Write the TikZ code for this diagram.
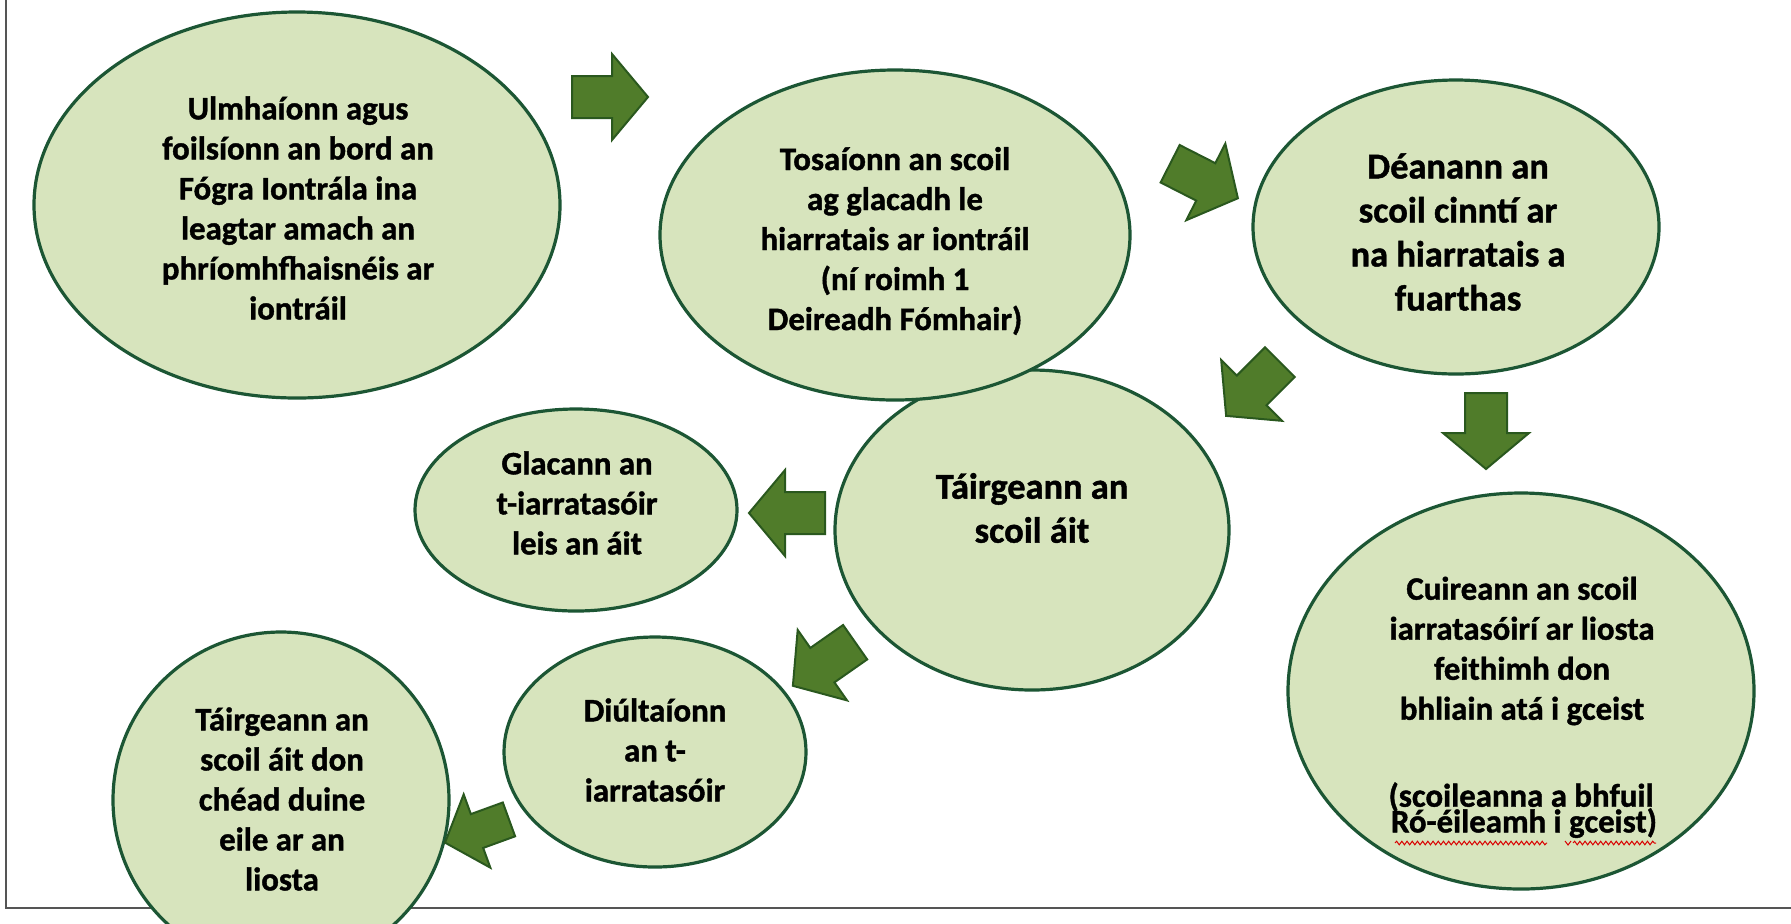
\documentclass[tikz,border=0pt]{standalone}
\usepackage{fontspec}
\setmainfont{Carlito}[BoldFeatures={FakeBold=1.2}]
\usetikzlibrary{shapes.geometric,decorations.pathmorphing}
\definecolor{ellfill}{RGB}{215,228,189}
\definecolor{elldraw}{RGB}{28,86,52}
\definecolor{arrfill}{RGB}{80,124,42}
\definecolor{arrdraw}{RGB}{42,88,30}
\definecolor{framegray}{RGB}{85,85,85}
\begin{document}
\begin{tikzpicture}[x=0.5pt,y=-0.5pt,
  stage/.style={ellipse, draw=elldraw, fill=ellfill, line width=1.6pt, inner sep=0pt},
  txt/.style={font=\bfseries\fontsize{16.4}{20}\selectfont, align=center, inner sep=0pt},
  bigtxt/.style={font=\bfseries\fontsize{18.2}{22}\selectfont, align=center, inner sep=0pt},
  arrowshape/.style={fill=arrfill, draw=arrdraw, line width=1pt, line join=miter},
  barrow/.pic={\path[arrowshape] (-38,-21) -- (2,-21) -- (2,-43) -- (38,0) -- (2,43) -- (2,21) -- (-38,21) -- cycle;},
  sarrow/.pic={\path[arrowshape] (-34,-18) -- (0,-18) -- (0,-39) -- (34,0) -- (0,39) -- (0,18) -- (-34,18) -- cycle;},
  squiggle/.style={draw=red!85!black, line width=0.5pt, decorate, decoration={snake, amplitude=0.9pt, segment length=2.6pt}}
]
\useasboundingbox (0,0) rectangle (1791,923);
\clip (0,0) rectangle (1791,923);

% frame
\coordinate (ftop) at (6,0);
\coordinate (fcorner) at (6,908);
\coordinate (fright) at (1791,908);
\draw[framegray, line width=1.2pt] (ftop) -- (fcorner) -- (fright);

% ellipses
\node[stage, minimum width=263pt, minimum height=193pt] (e1) at (297,205) {};
\node[stage, minimum width=197pt, minimum height=160pt] (e4) at (1032,530) {};
\node[stage, minimum width=235pt, minimum height=165pt] (e2) at (895,235) {};
\node[stage, minimum width=203pt, minimum height=147pt] (e3) at (1456,227) {};
\node[stage, minimum width=233pt, minimum height=198pt] (e5) at (1521,691) {};
\node[stage, minimum width=161pt, minimum height=101pt] (e6) at (576,510) {};
\node[stage, minimum width=151pt, minimum height=115pt] (e7) at (655,752) {};
\node[stage, minimum width=168pt, minimum height=168pt] (e8) at (281,800) {};

% texts
\node[txt] (t1) at (298,208) {Ulmhaíonn agus\\foilsíonn an bord an\\Fógra Iontrála ina\\leagtar amach an\\phríomhfhaisnéis ar\\iontráil};
\node[txt] (t2) at (895,241) {Tosaíonn an scoil\\ag glacadh le\\hiarratais ar iontráil\\(ní roimh 1\\Deireadh Fómhair)};
\node[bigtxt] (t3) at (1458,232) {Déanann an\\scoil cinntí ar\\na hiarratais a\\fuarthas};
\node[bigtxt] (t4) at (1032,508) {Táirgeann an\\scoil áit};
\node[txt] (t5) at (1522,651) {Cuireann an scoil\\iarratasóirí ar liosta\\feithimh don\\bhliain atá i gceist};
\node[txt] (t5b) at (1521,797) {(scoileanna a bhfuil};
\node[txt] (t5c) at (1524,823) {Ró-éileamh i gceist)};
\node[txt] (t6) at (577,503) {Glacann an\\t-iarratasóir\\leis an áit};
\node[txt] (t7) at (655,750) {Diúltaíonn\\an t-\\iarratasóir};
\node[txt] (t8) at (282,799) {Táirgeann an\\scoil áit don\\chéad duine\\eile ar an\\liosta};

% spell-check marks
\coordinate (s1a) at (1395,843);
\coordinate (s1b) at (1547,843);
\coordinate (s2a) at (1573,843);
\coordinate (s2b) at (1656,843);
\coordinate (s3a) at (1565,841);
\coordinate (s3b) at (1568,845);
\coordinate (s3c) at (1571,841);
\draw[squiggle] (s1a) -- (s1b);
\draw[squiggle] (s2a) -- (s2b);
\draw[red!85!black, line width=0.5pt] (s3a) -- (s3b) -- (s3c);

% block arrows
\path (610,97) pic {barrow};
\path (1204,181) pic[rotate=-27] {barrow};
\path (1253,389) pic[rotate=-135] {barrow};
\path (1486,431) pic[rotate=-90] {barrow};
\path (787,513) pic[rotate=180] {barrow};
\path (824,664) pic[rotate=-145] {barrow};
\path (477,831) pic[rotate=-160] {sarrow};
\end{tikzpicture}
\end{document}
